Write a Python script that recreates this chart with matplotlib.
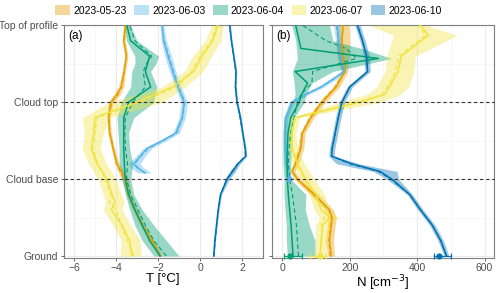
import matplotlib
matplotlib.use("Agg")
import matplotlib.pyplot as plt
from matplotlib.patches import Patch
from matplotlib.lines import Line2D
import numpy as np

plt.rcParams['font.family'] = ['Liberation Sans', 'DejaVu Sans']

dates = ['2023-05-23', '2023-06-03', '2023-06-04', '2023-06-07', '2023-06-10']
colors = ['#E69F00', '#56B4E9', '#009E73', '#F0E442', '#0072B2']

ytick_pos = [0, 1, 2, 3]
ytick_labels = ['Ground', 'Cloud base', 'Cloud top', 'Top of profile']

# ---- panel (a): temperature, per date: levels, mean, median, lower, upper
T_lev_0523 = [0, 0.2, 0.4, 0.6, 0.8, 1.0, 1.1, 1.2, 1.4, 1.6, 1.8, 2.0, 2.1, 2.2, 2.4, 2.6, 2.8, 3.0]
T_mean_0523 = [-1.9, -2.3, -2.75, -3.1, -3.4, -3.56, -3.75, -3.95, -4.14, -4.3, -4.35, -4.25, -3.95, -3.75, -3.62, -3.5, -3.63, -3.56]
T_med_0523 = [-1.85, -2.25, -2.7, -3.08, -3.38, -3.6, -3.8, -3.98, -4.12, -4.28, -4.33, -4.2, -3.9, -3.72, -3.6, -3.52, -3.6, -3.55]
T_lo_0523 = [-1.98, -2.38, -2.85, -3.2, -3.52, -3.75, -3.9, -4.05, -4.22, -4.38, -4.43, -4.35, -4.12, -3.88, -3.7, -3.58, -3.71, -3.64]
T_hi_0523 = [-1.82, -2.22, -2.65, -3.0, -3.28, -3.4, -3.6, -3.85, -4.06, -4.22, -4.27, -4.12, -3.8, -3.62, -3.54, -3.42, -3.55, -3.48]

T_lev_0603 = [1.08, 1.15, 1.2, 1.3, 1.4, 1.5, 1.6, 1.8, 2.0, 2.2, 2.4, 2.6, 2.8, 3.0]
T_mean_0603 = [-2.6, -3.0, -3.15, -2.84, -2.52, -1.8, -1.15, -0.85, -0.75, -1.05, -1.3, -1.52, -1.73, -1.81]
T_med_0603 = [-2.65, -2.95, -3.1, -2.8, -2.45, -1.75, -1.1, -0.82, -0.72, -1.0, -1.25, -1.48, -1.7, -1.8]
T_lo_0603 = [-2.95, -3.3, -3.4, -3.05, -2.7, -1.95, -1.3, -1.0, -0.9, -1.2, -1.45, -1.68, -1.85, -1.9]
T_hi_0603 = [-2.3, -2.7, -2.85, -2.6, -2.3, -1.6, -0.98, -0.7, -0.6, -0.9, -1.15, -1.35, -1.6, -1.72]

T_lev_0604 = [0, 0.2, 0.4, 0.6, 0.8, 1.0, 1.2, 1.4, 1.6, 1.8, 2.0, 2.2, 2.4, 2.5, 2.6, 2.8, 3.0]
T_mean_0604 = [-1.9, -2.4, -2.75, -3.1, -3.4, -3.56, -3.6, -3.63, -3.63, -3.63, -3.4, -2.35, -2.6, -2.5, -2.4, -3.3, -3.48]
T_med_0604 = [-1.6, -2.2, -2.6, -2.95, -3.3, -3.5, -3.45, -3.55, -3.58, -3.55, -3.2, -2.6, -2.7, -2.55, -2.3, -3.1, -3.35]
T_lo_0604 = [-2.2, -2.75, -3.1, -3.35, -3.55, -3.7, -3.85, -3.85, -3.9, -3.95, -3.75, -3.3, -3.25, -3.1, -3.1, -3.5, -3.6]
T_hi_0604 = [-1.0, -1.6, -2.2, -2.75, -3.15, -3.3, -3.2, -3.35, -3.4, -3.15, -2.2, -2.05, -2.35, -2.1, -1.97, -3.0, -3.3]

T_lev_0607 = [0, 0.2, 0.4, 0.6, 0.7, 0.8, 1.0, 1.2, 1.4, 1.6, 1.8, 2.0, 2.2, 2.4, 2.6, 2.8, 3.0]
T_mean_0607 = [-3.24, -3.35, -3.71, -4.22, -4.05, -4.19, -4.43, -4.9, -5.17, -5.06, -5.0, -3.0, -1.3, -0.3, 0.1, 0.6, 0.85]
T_med_0607 = [-3.15, -3.45, -3.75, -4.0, -4.3, -4.25, -4.5, -4.85, -5.1, -5.0, -4.9, -2.9, -1.1, -0.4, 0.0, 0.55, 0.8]
T_lo_0607 = [-3.8, -3.75, -4.15, -4.6, -4.5, -4.6, -4.85, -5.3, -5.6, -5.5, -5.6, -4.3, -1.8, -0.75, -0.35, 0.25, 0.55]
T_hi_0607 = [-2.78, -2.85, -3.3, -3.7, -3.6, -3.75, -4.0, -4.45, -4.75, -4.6, -4.3, -1.8, -0.7, 0.15, 0.55, 1.0, 1.1]

T_lev_0610 = [0, 0.2, 0.4, 0.6, 0.8, 1.0, 1.1, 1.2, 1.3, 1.4, 1.6, 1.8, 2.0, 2.2, 2.4, 2.6, 2.8, 3.0]
T_mean_0610 = [0.65, 0.70, 0.78, 0.86, 0.97, 1.29, 1.55, 1.80, 2.18, 2.15, 2.03, 1.92, 1.76, 1.68, 1.71, 1.60, 1.49, 1.41]
T_med_0610 = [0.66, 0.72, 0.79, 0.88, 0.99, 1.27, 1.52, 1.78, 2.15, 2.13, 2.02, 1.90, 1.75, 1.70, 1.69, 1.60, 1.50, 1.40]
T_lo_0610 = [0.62, 0.67, 0.75, 0.83, 0.93, 1.18, 1.40, 1.70, 2.12, 2.11, 1.99, 1.88, 1.72, 1.64, 1.67, 1.56, 1.45, 1.37]
T_hi_0610 = [0.68, 0.74, 0.82, 0.90, 1.02, 1.40, 1.68, 1.90, 2.22, 2.19, 2.07, 1.96, 1.80, 1.72, 1.75, 1.64, 1.53, 1.45]

# ---- panel (b): number concentration
N_lev_0523 = [0, 0.2, 0.4, 0.5, 0.6, 0.8, 1.0, 1.1, 1.2, 1.4, 1.6, 1.8, 2.0, 2.2, 2.4, 2.6, 2.8, 3.0]
N_mean_0523 = [145, 140, 145, 148, 140, 95, 45, 30, 40, 55, 60, 85, 118, 160, 186, 178, 177, 180]
N_med_0523 = [142, 138, 143, 146, 138, 92, 43, 29, 38, 53, 58, 82, 115, 157, 184, 180, 178, 181]
N_lo_0523 = [135, 128, 134, 136, 128, 82, 35, 22, 32, 46, 52, 76, 108, 150, 176, 162, 160, 165]
N_hi_0523 = [155, 152, 157, 160, 152, 108, 55, 38, 48, 64, 68, 94, 128, 170, 195, 198, 200, 198]

N_lev_0603 = [1.0, 1.2, 1.4, 1.6, 1.8, 2.0, 2.1, 2.2, 2.3, 2.4, 2.6, 2.8, 3.0]
N_mean_0603 = [20, 12, 8, 8, 10, 28, 68, 115, 150, 183, 173, 168, 162]
N_med_0603 = [20, 13, 9, 9, 11, 30, 70, 117, 152, 182, 172, 166, 160]
N_lo_0603 = [15, 6, 3, 3, 4, 20, 58, 105, 140, 175, 164, 158, 152]
N_hi_0603 = [25, 18, 14, 14, 16, 36, 78, 125, 160, 192, 182, 178, 172]

N_lev_0604 = [0, 0.2, 0.4, 0.6, 0.8, 1.0, 1.2, 1.4, 1.6, 1.8, 2.0, 2.1, 2.25, 2.4, 2.57, 2.7, 2.8, 3.0]
N_mean_0604 = [32, 29, 26, 22, 18, 15, 14, 15, 17, 25, 50, 57, 75, 38, 285, 55, 50, 40]
N_med_0604 = [48, 45, 42, 36, 30, 22, 18, 20, 25, 35, 45, 55, 88, 90, 220, 190, 130, 60]
N_lo_0604 = [15, 12, 12, 8, 5, 5, 2, 2, 2, 5, 30, 38, 35, 30, 45, 42, 40, 28]
N_hi_0604 = [97, 97, 80, 68, 70, 25, 25, 28, 30, 35, 65, 70, 88, 150, 325, 235, 150, 140]

N_lev_0607 = [0, 0.2, 0.4, 0.5, 0.6, 0.8, 1.0, 1.2, 1.4, 1.6, 1.8, 2.0, 2.1, 2.2, 2.4, 2.6, 2.87, 3.0]
N_mean_0607 = [112, 115, 120, 140, 115, 100, 70, 45, 30, 28, 38, 230, 303, 318, 343, 353, 433, 410]
N_med_0607 = [110, 118, 115, 125, 130, 95, 65, 42, 28, 27, 40, 220, 295, 312, 335, 345, 425, 405]
N_lo_0607 = [95, 98, 100, 110, 95, 80, 55, 30, 18, 15, 25, 170, 250, 280, 305, 310, 330, 260]
N_hi_0607 = [130, 135, 145, 165, 140, 125, 95, 65, 45, 40, 52, 290, 350, 375, 390, 395, 518, 430]

N_lev_0610 = [0, 0.2, 0.4, 0.6, 0.8, 1.0, 1.1, 1.2, 1.3, 1.4, 1.6, 1.8, 2.0, 2.2, 2.4, 2.6, 2.8, 3.0]
N_mean_0610 = [487, 470, 445, 410, 378, 325, 290, 205, 146, 148, 157, 166, 177, 200, 253, 250, 238, 223]
N_med_0610 = [487, 470, 445, 410, 378, 322, 285, 200, 146, 148, 157, 166, 177, 200, 253, 250, 238, 223]
N_lo_0610 = [480, 462, 437, 402, 370, 310, 270, 160, 138, 140, 149, 158, 169, 192, 245, 242, 230, 215]
N_hi_0610 = [494, 478, 453, 418, 386, 345, 340, 228, 154, 156, 165, 174, 185, 208, 261, 258, 246, 231]

# ground / cloud-base points with error bars in (b)
pt_date = ['2023-06-04', '2023-06-07', '2023-06-10', '2023-06-03']
pt_level = [0, 0, 0, 1]
pt_N = [23, 111, 464, 20]
pt_lo = [6, 83, 449, 20]
pt_hi = [57, 130, 499, 20]

T_data = [(T_lev_0523, T_mean_0523, T_med_0523, T_lo_0523, T_hi_0523),
          (T_lev_0603, T_mean_0603, T_med_0603, T_lo_0603, T_hi_0603),
          (T_lev_0604, T_mean_0604, T_med_0604, T_lo_0604, T_hi_0604),
          (T_lev_0607, T_mean_0607, T_med_0607, T_lo_0607, T_hi_0607),
          (T_lev_0610, T_mean_0610, T_med_0610, T_lo_0610, T_hi_0610)]
N_data = [(N_lev_0523, N_mean_0523, N_med_0523, N_lo_0523, N_hi_0523),
          (N_lev_0603, N_mean_0603, N_med_0603, N_lo_0603, N_hi_0603),
          (N_lev_0604, N_mean_0604, N_med_0604, N_lo_0604, N_hi_0604),
          (N_lev_0607, N_mean_0607, N_med_0607, N_lo_0607, N_hi_0607),
          (N_lev_0610, N_mean_0610, N_med_0610, N_lo_0610, N_hi_0610)]

fig = plt.figure(figsize=(5.0, 2.93), dpi=100)
axa = fig.add_axes([0.128, 0.121, 0.397, 0.795])
axb = fig.add_axes([0.543, 0.121, 0.445, 0.795])

grid_col = '#EBEBEB'
for ax in (axa, axb):
    ax.set_ylim(-0.02, 3.01)
    ax.set_yticks(ytick_pos)
    ax.set_yticks([0.5, 1.5, 2.5], minor=True)
    ax.grid(True, which='major', color=grid_col, lw=0.8, zorder=0)
    ax.grid(True, which='minor', color='#F4F4F4', lw=0.5, zorder=0)
    ax.set_axisbelow(True)
    for s in ax.spines.values():
        s.set_color('#7F7F7F')
        s.set_linewidth(0.8)
    ax.tick_params(which='major', length=2.5, width=0.6, color='#4D4D4D',
                   labelsize=7.5, labelcolor='#4D4D4D', pad=1.5)
    ax.tick_params(which='minor', length=0)

def draw(ax, data):
    for (lev, mean, med, lo, hi), c in zip(data, colors):
        ax.fill_betweenx(lev, lo, hi, color=c, alpha=0.4, lw=0, zorder=2)
    for (lev, mean, med, lo, hi), c in zip(data, colors):
        ax.plot(med, lev, color=c, lw=0.8, ls=(0, (4, 2.5)), zorder=3)
        ax.plot(mean, lev, color=c, lw=1.1, zorder=4)

draw(axa, T_data)
draw(axb, N_data)

axa.set_xlim(-6.47, 2.97)
axa.set_xticks([-6, -4, -2, 0, 2])
axa.set_xticks([-5, -3, -1, 1], minor=True)
axa.set_yticklabels(ytick_labels)
axa.set_xlabel('T [°C]', fontsize=9.5, labelpad=0)

axb.set_xlim(-32, 628)
axb.set_xticks([0, 200, 400, 600])
axb.set_xticks([100, 300, 500], minor=True)
axb.set_yticklabels([])
axb.set_xlabel('N [cm$^{-3}$]', fontsize=9.5, labelpad=0)

for d, lv, n, lo, hi in zip(pt_date, pt_level, pt_N, pt_lo, pt_hi):
    c = colors[dates.index(d)]
    axb.errorbar([n], [lv], xerr=[[n - lo], [hi - n]], fmt='o', color=c,
                 ms=3.5, elinewidth=0.9, capsize=2.5, capthick=0.9, zorder=5,
                 clip_on=False)

axa.text(0.02, 0.975, '(a)', transform=axa.transAxes, fontsize=8.5, va='top', ha='left')
axb.text(0.02, 0.975, '(b)', transform=axb.transAxes, fontsize=8.5, va='top', ha='left')

# cloud top / cloud base dashed lines across both panels
x0 = axa.get_position().x0
x1 = axb.get_position().x1
for lv in (1, 2):
    yf = axa.transAxes.inverted().transform(axa.transData.transform((0, lv)))[1]
    yfig = axa.get_position().y0 + yf * axa.get_position().height
    fig.add_artist(Line2D([x0, x1], [yfig, yfig], color='#333333', lw=0.8,
                          ls=(0, (3, 2.5)), zorder=10))

handles = [Patch(facecolor=c, alpha=0.4, edgecolor='none') for c in colors]
fig.legend(handles, dates, loc='center', bbox_to_anchor=(0.497, 0.964), ncol=5,
           frameon=False, fontsize=7.5, handlelength=1.4, handleheight=1.1,
           handletextpad=0.3, columnspacing=0.75, borderaxespad=0)

fig.savefig('out.png', dpi=100)
